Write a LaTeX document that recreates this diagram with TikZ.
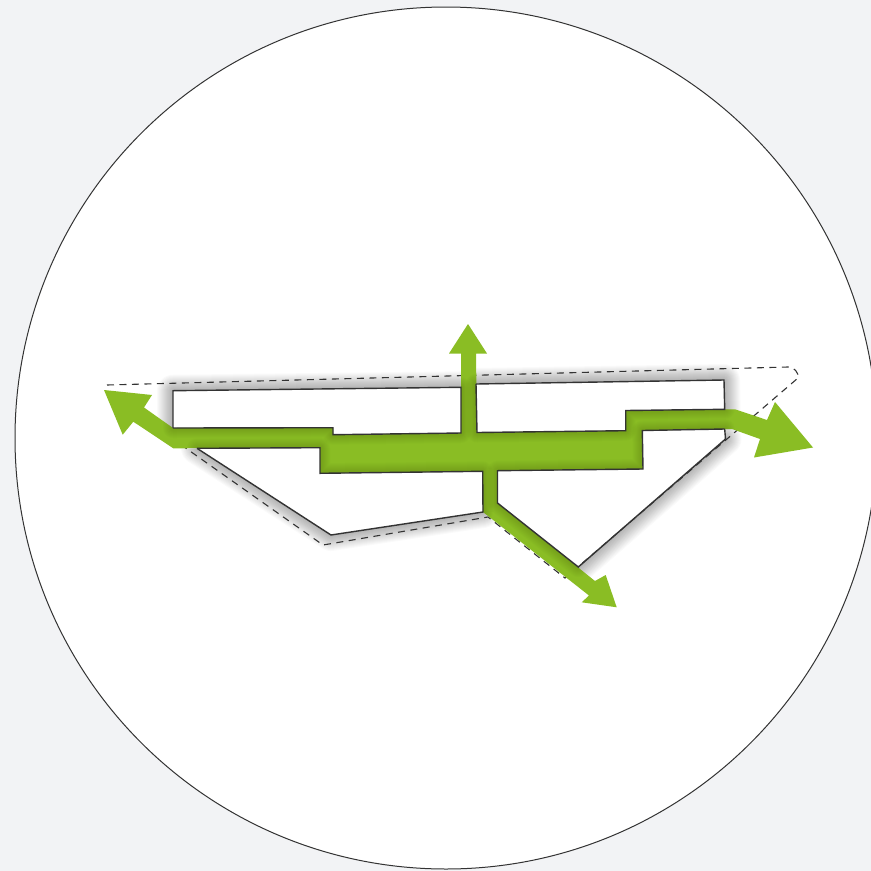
\documentclass[tikz,border=0pt]{standalone}
\definecolor{pagebg}{HTML}{F2F3F5}
\definecolor{leaf}{HTML}{8ABD24}
\definecolor{leafdark}{HTML}{3F5F10}
\definecolor{wall}{HTML}{333333}
\tikzset{
  wallline/.style={draw=wall,line width=1.4pt,line join=miter},
  dashline/.style={draw=wall,line width=1.1pt,dash pattern=on 7pt off 5.5pt},
  ringline/.style={draw=wall,line width=1pt},
  softshadow/.style={black,opacity=0.018,line join=round,line cap=round},
  innerglow/.style={leafdark,opacity=0.028,line join=round,line cap=round}
}
\def\roomA{(173,428)--(173,390.7)--(461,387.3)--(461,433)--(333,434.7)--(333,427.7)--cycle}
\def\roomB{(476,384)--(724,380)--(724.7,409.3)--(625.7,410.5)--(625.7,430.7)--(477,432.5)--cycle}
\def\roomC{(724.7,429)--(642.3,430.5)--(643,469)--(497.5,470.7)--(497.5,503)--(578.3,567)--(725.5,439)--cycle}
\def\roomD{(320,447.7)--(320,473.3)--(482.7,471.3)--(483,512)--(331,535)--(197,448.3)--cycle}
\def\footprint{(173,390.7)--(461,387.3)--(476,384)--(724,380)--(724.7,409.3)--(725.5,439)--(578.3,567)--(497.5,503)--(483,512)--(331,535)--(197,448.3)--(173,448.3)--cycle}
\def\shadowtop{(173,428)--(173,390.7)--(461,387.3)--(476,384)--(724,380)--(724.7,409.3)}
\def\shadowlow{(725.5,439)--(578.3,567)}
\def\shadowleft{(197,448.3)--(331,535)--(483,512)}
\def\greenshape{(104,390)--(152,395)--(144,407.5)--(173,428)--(333,427.7)--(333,434.7)--(461,433)--(461,353.5)--(449,353.5)--(468,324)--(487,353.5)--(476,353.5)--(477,432.5)--(625.7,430.7)--(625.7,410.5)--(724.7,409.3)--(735,409.3)--(767,420)--(775,402)--(813,447.5)--(754,457.5)--(760,439)--(732,429)--(642.3,430.5)--(643,469)--(497.5,470.7)--(497.5,503)--(595,581)--(605.7,575)--(616.7,607.3)--(581.7,602.3)--(589,595.5)--(483,512)--(482.7,471.3)--(320,473.3)--(320,447.7)--(173.3,448.3)--(133.3,421.7)--(122.7,434.7)--cycle}
\begin{document}
\begin{tikzpicture}[x=1pt,y=-1pt]
\useasboundingbox (0,0) rectangle (871,871);
\clip (0,0) rectangle (871,871);
\fill[pagebg] (0,0) rectangle (871,871);
\path[fill=white,ringline] (446,438) circle[radius=431];
% soft shadow round the footprint
\foreach \w in {2,4,...,32}{
  \draw[softshadow,line width=\w pt] \shadowtop;
  \draw[softshadow,line width=\w pt] \shadowlow;
  \draw[softshadow,line width=\w pt] \shadowleft;
}
\fill[white] \footprint;
% dashed site outline
\draw[dashline] (107,385)--(788,367) to[out=0,in=80] (798,378)--(565,578)--(488,517)--(323,545)--(180,444);
% green circulation with inner glow along the walls
\fill[leaf] \greenshape;
\begin{scope}
  \clip \greenshape;
  \foreach \w in {2,4,...,20}{
    \draw[innerglow,line width=\w pt] \roomA;
    \draw[innerglow,line width=\w pt] \roomB;
    \draw[innerglow,line width=\w pt] \roomC;
    \draw[innerglow,line width=\w pt] \roomD;
  }
\end{scope}
% walls
\draw[wallline] (173,428)--(173,390.7)--(461,387.3)--(461,433)--(333,434.7)--(333,427.7)--(173,428);
\draw[wallline] (476,384)--(724,380)--(724.7,409.3)--(625.7,410.5)--(625.7,430.7)--(477,432.5)--(476,384);
\draw[wallline] (724.7,429)--(642.3,430.5)--(643,469)--(497.5,470.7)--(497.5,503)--(578.3,567)--(725.5,439)--(724.7,429);
\draw[wallline] (197,448.3)--(320,447.7)--(320,473.3)--(482.7,471.3)--(483,512)--(331,535)--(197,448.3);
\end{tikzpicture}
\end{document}
